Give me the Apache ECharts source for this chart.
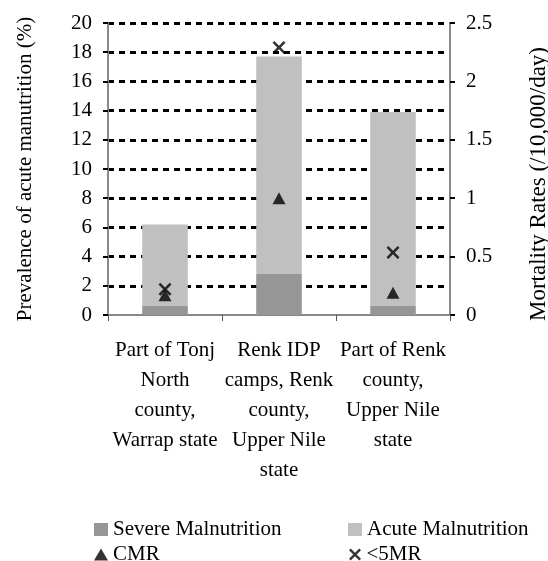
<!DOCTYPE html>
<html>
<head>
<meta charset="utf-8">
<script src="https://cdn.jsdelivr.net/npm/echarts@6/dist/echarts.min.js"></script>
<style>
  html, body { margin: 0; padding: 0; background: #fff; }
  #chart { width: 548px; height: 561px; }
</style>
</head>
<body>
<div id="chart"></div>
<script>
// categories (x axis)
var categories = [
  "Part of Tonj\nNorth\ncounty,\nWarrap state",
  "Renk IDP\ncamps, Renk\ncounty,\nUpper Nile\nstate",
  "Part of Renk\ncounty,\nUpper Nile\nstate"
];
// prevalence (%), left axis - stacked segments
var severe = [0.65, 2.85, 0.65];
var acuteRest = [5.55, 14.85, 13.25];
// mortality rates (/10,000/day), right axis
var cmr = [0.17, 1.0, 0.19];
var u5mr = [0.22, 2.29, 0.535];

var FONT = '"Liberation Serif", "Times New Roman", serif';
var xPath = 'path://M0,1.4 L1.4,0 L5,3.6 L8.6,0 L10,1.4 L6.4,5 L10,8.6 L8.6,10 L5,6.4 L1.4,10 L0,8.6 L3.6,5 Z';
var legendText = { fontFamily: FONT, fontSize: 21, lineHeight: 21, color: '#000' };

var chart = echarts.init(document.getElementById('chart'));

chart.setOption({
  animation: false,
  textStyle: { fontFamily: FONT, color: '#000' },
  grid: { left: 108, right: 98, top: 23, bottom: 246, outerBoundsMode: 'none' },
  legend: [
    {
      data: [{ name: 'Severe Malnutrition', icon: 'rect' }],
      left: 89, top: 514, itemWidth: 14, itemHeight: 13,
      textStyle: legendText
    },
    {
      data: [{ name: 'Acute Malnutrition', icon: 'rect' }],
      left: 343, top: 514, itemWidth: 14, itemHeight: 13,
      textStyle: legendText
    },
    {
      data: [{ name: 'CMR', icon: 'triangle' }],
      left: 89, top: 539, itemWidth: 14, itemHeight: 12,
      textStyle: legendText
    },
    {
      data: [{ name: '<5MR', icon: xPath }],
      left: 344, top: 539, itemWidth: 13, itemHeight: 12,
      textStyle: legendText
    }
  ],
  xAxis: {
    type: 'category',
    data: categories,
    axisLine: { lineStyle: { color: '#888', width: 2 } },
    axisTick: { show: true, length: 6, lineStyle: { color: '#555', width: 1 } },
    axisLabel: {
      interval: 0, margin: 20, fontSize: 21, lineHeight: 30,
      fontFamily: FONT, color: '#000'
    }
  },
  yAxis: [
    {
      type: 'value', min: 0, max: 20, interval: 2,
      name: 'Prevalence of acute manutrition (%)',
      nameLocation: 'middle', nameGap: 72,
      nameTextStyle: { fontFamily: FONT, fontSize: 21, color: '#000' },
      axisLine: { show: true, lineStyle: { color: '#888', width: 2 } },
      axisTick: { show: true, length: 5, lineStyle: { color: '#000', width: 2 } },
      axisLabel: { margin: 16, fontSize: 21, fontFamily: FONT, color: '#000' },
      splitLine: {
        show: true, showMinLine: false,
        lineStyle: { color: '#000', width: 3, type: [6, 5] }
      }
    },
    {
      type: 'value', min: 0, max: 2.5, interval: 0.5,
      name: 'Mortality Rates (/10,000/day)',
      nameLocation: 'middle', nameGap: 77,
      nameTextStyle: { fontFamily: FONT, fontSize: 23, color: '#000', padding: [0, 30, 0, 0] },
      axisLine: { show: true, lineStyle: { color: '#888', width: 2 } },
      axisTick: { show: true, length: 5, lineStyle: { color: '#000', width: 2 } },
      axisLabel: { margin: 16, fontSize: 21, fontFamily: FONT, color: '#000' },
      splitLine: { show: false }
    }
  ],
  series: [
    {
      name: 'Severe Malnutrition', type: 'bar', stack: 'prev',
      barWidth: '40%', data: severe, z: 3,
      itemStyle: { color: '#969696' }
    },
    {
      name: 'Acute Malnutrition', type: 'bar', stack: 'prev',
      barWidth: '40%', data: acuteRest, z: 3,
      itemStyle: { color: '#c0c0c0' }
    },
    {
      name: 'CMR', type: 'scatter', yAxisIndex: 1, data: cmr, z: 5,
      symbol: 'triangle', symbolSize: [13, 12],
      itemStyle: { color: '#000' }
    },
    {
      name: '<5MR', type: 'scatter', yAxisIndex: 1, data: u5mr, z: 6,
      symbol: xPath, symbolSize: [13, 13],
      itemStyle: { color: '#000' }
    }
  ]
});
</script>
</body>
</html>
